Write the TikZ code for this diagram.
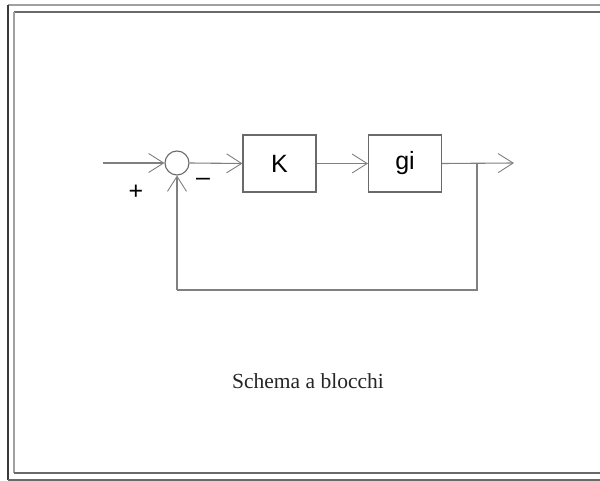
\documentclass[tikz,border=0pt]{standalone}
\usepackage{fontspec}
\setmainfont{Liberation Serif}
\newfontfamily\blocksans{Liberation Sans}
\usetikzlibrary{arrows.meta}
\definecolor{wire}{HTML}{808080}
\definecolor{frameDark}{HTML}{3A3A3A}
\definecolor{frameMid}{HTML}{6A6A6A}
\definecolor{frameLight}{HTML}{A0A0A0}
\tikzset{
  sig/.style={draw=wire, line width=1.1pt, -{Straight Barb[length=15pt,width=19pt,line width=0.9pt]}},
  wireline/.style={draw=wire, line width=1.1pt},
  blockbox/.style={draw=frameMid, line width=1.1pt, minimum width=73pt, minimum height=57pt, inner sep=0pt, font=\blocksans\fontsize{25}{27}\selectfont},
  sumnode/.style={circle, draw=frameMid, line width=1.1pt, minimum size=24pt, inner sep=0pt},
  signlabel/.style={font=\blocksans\fontsize{25}{27}\selectfont, inner sep=0pt}
}
\begin{document}
\begin{tikzpicture}[x=1pt, y=-1pt]
\useasboundingbox (0,0) rectangle (600,481);
% grooved frame
\fill[white] (0,0) rectangle (600,481);
\draw[frameLight, line width=1.5pt] (8,5) -- (601,5);
\draw[frameDark, line width=1.5pt] (8,5) -- (8,480);
\draw[frameMid, line width=1.5pt] (8,480) -- (601,480);
\draw[frameMid, line width=1.5pt] (14,12) -- (601,12);
\draw[frameLight, line width=1.5pt] (14,12) -- (14,473);
\draw[frameMid, line width=1.5pt] (14,473) -- (601,473);

% blocks
\node[sumnode] (sum) at (177,163) {};
\node[blockbox] (K) at (279.5,163.5) {K};
\node[blockbox] (G) at (405,163.5) {gi};

\coordinate (in) at (103,163);
\coordinate (branch) at (477,163);
\coordinate (out) at (514,163);
\coordinate (fbR) at (477,290);
\coordinate (fbL) at (177,290);

\draw[sig] (in) -- (sum.west);
\draw[sig] (sum.east) -- (K.west);
\draw[sig] (K.east) -- (G.west);
\draw[sig] (G.east) -- (out);
\draw[wireline] (branch) -- (fbR) -- (fbL);
\draw[sig] (fbL) -- (sum.south);

\node[signlabel] (plus) at (136,192) {+};
\node[signlabel] (minus) at (203,182) {–};

\node[font=\fontsize{21.5}{24}\selectfont, text=black!85] (title) at (308,381) {Schema a blocchi};
\end{tikzpicture}
\end{document}
